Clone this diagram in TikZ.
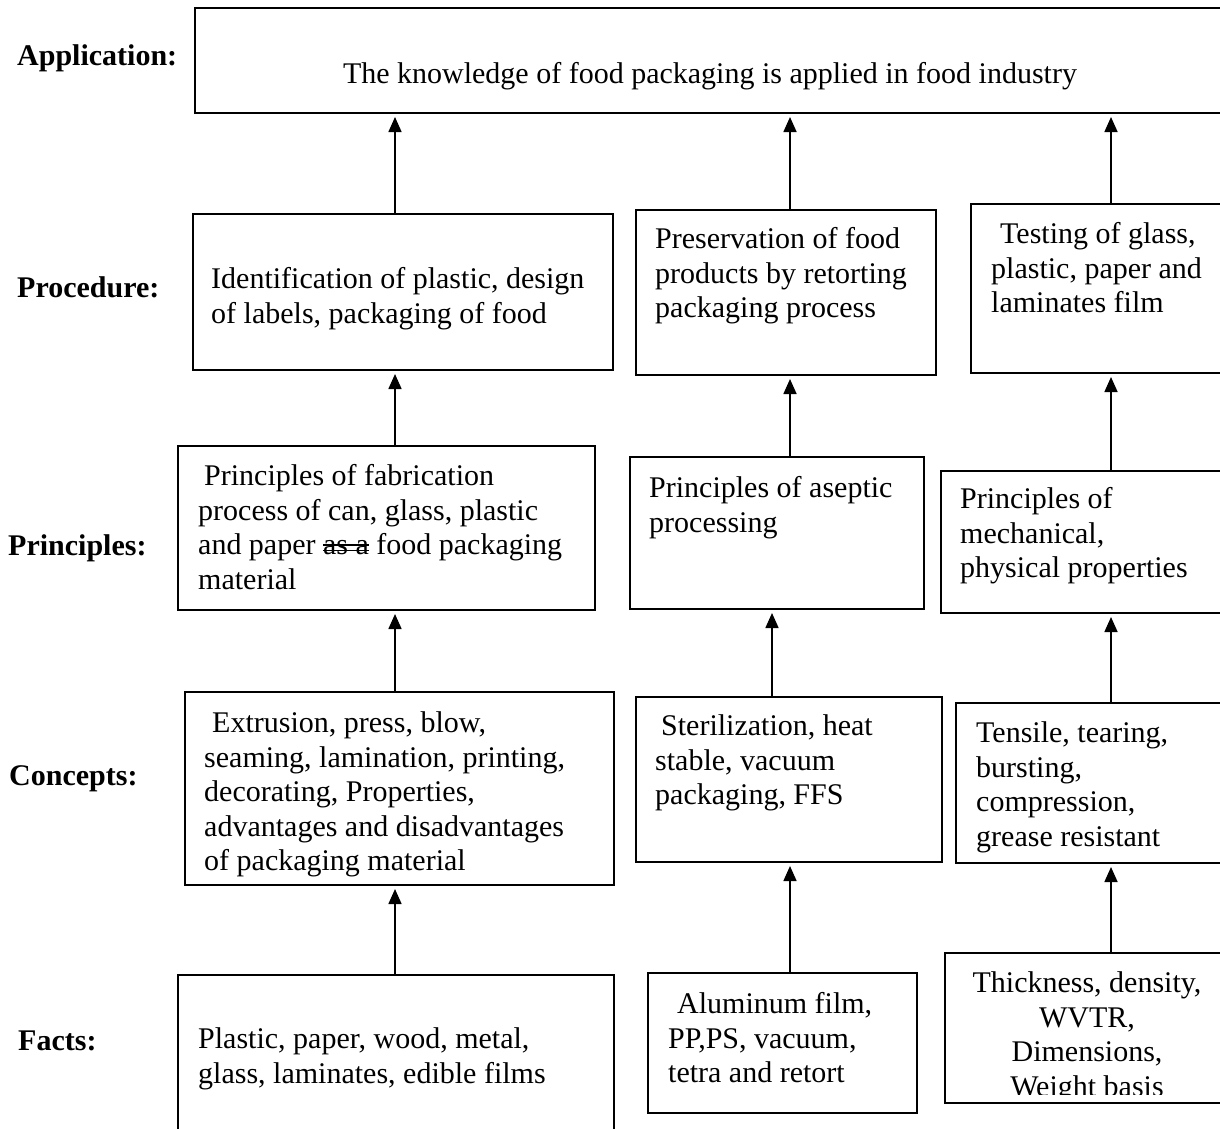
\documentclass[tikz,border=0pt]{standalone}
\usepackage{fontspec}
\setmainfont{Liberation Serif}
\usetikzlibrary{arrows.meta}

% two thin rules drawn through a word (double strike-out)
\newcommand\dblstrike[1]{\setbox0\hbox{#1}\rlap{\rule[0.13em]{\wd0}{0.045em}}\rlap{\rule[0.31em]{\wd0}{0.045em}}\box0\relax}

\begin{document}
\begin{tikzpicture}[x=1pt,y=-1pt,
  box/.style={draw=black, line width=1.6pt, anchor=north west, inner sep=0pt, outer sep=0pt},
  txt/.style={inner sep=0pt, anchor=north west, align=left, font=\fontsize{30}{34.5}\selectfont},
  lbl/.style={inner sep=0pt, anchor=base west, font=\fontsize{30}{34.5}\selectfont\bfseries},
  arr/.style={line width=1.6pt, -{Triangle[width=13pt,length=15pt]}, shorten >=4pt}]

\useasboundingbox (0,0) rectangle (1220,1128);
\clip (0,0) rectangle (1220,1128);
\fill[white] (0,0) rectangle (1220,1128);

% level labels
\node[lbl] (lapp) at (17,65)   {Application:};
\node[lbl] (lpro) at (17,297)  {Procedure:};
\node[lbl] (lpri) at (8,555)   {Principles:};
\node[lbl] (lcon) at (9,785)   {Concepts:};
\node[lbl] (lfac) at (18,1050) {Facts:};

% application
\node[box, minimum width=1045pt, minimum height=105pt] (app) at (195,8) {};
\node[txt, anchor=base] (tapp) at (710,83) {The knowledge of food packaging is applied in food industry};

% procedure
\node[box, minimum width=420pt, minimum height=156pt] (p1) at (193,214) {};
\node[box, minimum width=300pt, minimum height=165pt] (p2) at (636,210) {};
\node[box, minimum width=269pt, minimum height=169pt] (p3) at (971,204) {};
\node[txt] (tp1) at (211,267.5) {Identification of plastic, design\\of labels, packaging of food};
\node[txt] (tp2) at (655,227.5) {Preservation of food\\products by retorting\\packaging process};
\node[txt] (tp3) at (991,222.5) {\hspace{9pt}Testing of glass,\\plastic, paper and\\laminates film};

% principles
\node[box, minimum width=417pt, minimum height=164pt] (r1) at (178,446) {};
\node[box, minimum width=294pt, minimum height=152pt] (r2) at (630,457) {};
\node[box, minimum width=299pt, minimum height=142pt] (r3) at (941,471) {};
\node[txt] (tr1) at (198,464.5) {\hspace{6pt}Principles of fabrication\\process of can, glass, plastic\\and paper \dblstrike{as a} food packaging\\material};
\node[txt] (tr2) at (649,476.5) {Principles of aseptic\\processing};
\node[txt] (tr3) at (960,487.5) {Principles of\\mechanical,\\physical properties};

% concepts
\node[box, minimum width=429pt, minimum height=193pt] (c1) at (185,692) {};
\node[box, minimum width=306pt, minimum height=165pt] (c2) at (636,697) {};
\node[box, minimum width=284pt, minimum height=160pt] (c3) at (956,703) {};
\node[txt] (tc1) at (204,711.5) {\hspace{8pt}Extrusion, press, blow,\\seaming, lamination, printing,\\decorating, Properties,\\advantages and disadvantages\\of packaging material};
\node[txt] (tc2) at (655,714.5) {\hspace{6pt}Sterilization, heat\\stable, vacuum\\packaging, FFS};
\node[txt] (tc3) at (976,721.5) {Tensile, tearing,\\bursting,\\compression,\\grease resistant};

% facts
\node[box, minimum width=436pt, minimum height=175pt] (f1) at (178,975) {};
\node[box, minimum width=269pt, minimum height=140pt] (f2) at (648,973) {};
\node[box, minimum width=295pt, minimum height=150pt] (f3) at (945,953) {};
\node[txt] (tf1) at (198,1027.5) {Plastic, paper, wood, metal,\\glass, laminates, edible films};
\node[txt] (tf2) at (668,992.5) {\hspace{9pt}Aluminum film,\\PP,PS, vacuum,\\tetra and retort};
\begin{scope}
  \clip (945,953) rectangle (1240,1094);
  \node[txt, anchor=north, align=center] (tf3) at (1087,971.5) {Thickness, density,\\WVTR,\\Dimensions,\\Weight basis};
\end{scope}

% column positions of the connectors
\coordinate (ka) at (395,0);
\coordinate (kb) at (790,0);
\coordinate (kc) at (772,0);
\coordinate (kd) at (1111,0);

% connectors
\draw[arr] (p1.north -| ka) -- (app.south -| ka);
\draw[arr] (r1.north -| ka) -- (p1.south -| ka);
\draw[arr] (c1.north -| ka) -- (r1.south -| ka);
\draw[arr] (f1.north -| ka) -- (c1.south -| ka);

\draw[arr] (p2.north -| kb) -- (app.south -| kb);
\draw[arr] (r2.north -| kb) -- (p2.south -| kb);
\draw[arr] (c2.north -| kc) -- (r2.south -| kc);
\draw[arr] (f2.north -| kb) -- (c2.south -| kb);

\draw[arr] (p3.north -| kd) -- (app.south -| kd);
\draw[arr] (r3.north -| kd) -- (p3.south -| kd);
\draw[arr] (c3.north -| kd) -- (r3.south -| kd);
\draw[arr] (f3.north -| kd) -- (c3.south -| kd);
\end{tikzpicture}
\end{document}
